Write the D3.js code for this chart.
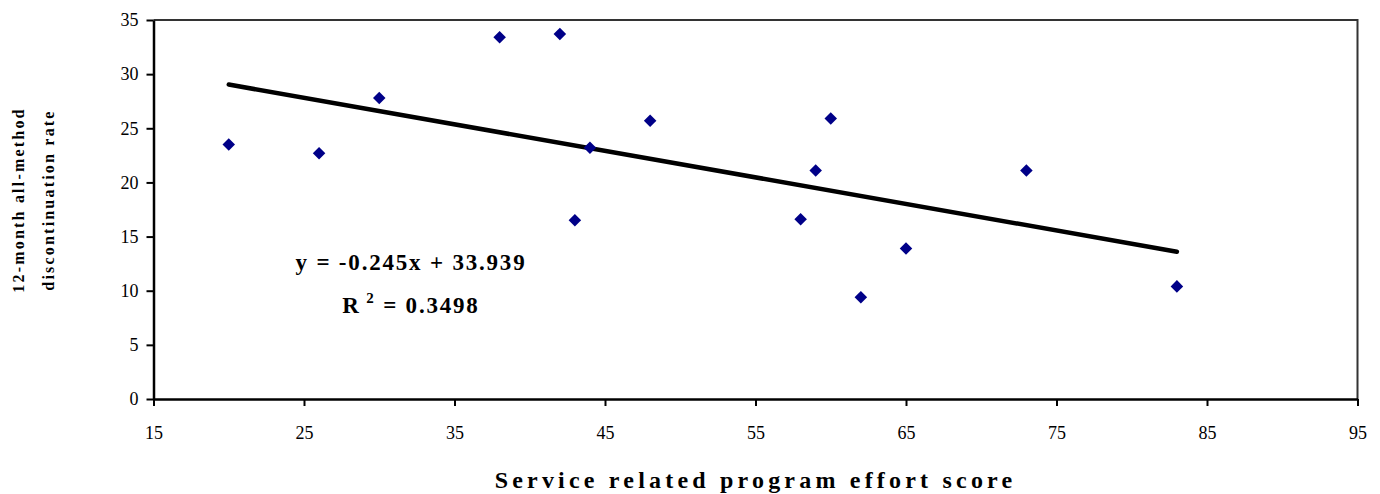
<!DOCTYPE html>
<html>
<head>
<meta charset="utf-8">
<script src="https://cdn.jsdelivr.net/npm/d3@7"></script>
<style>
  html, body { margin: 0; padding: 0; background: #fff; }
  svg { display: block; }
  .tick text { font-family: "Liberation Serif", "Times New Roman", serif; font-size: 18px; fill: #000; }
</style>
</head>
<body>
<svg id="chart" width="1380" height="494"></svg>
<script>
// Program effort score (x) vs. 12-month discontinuation rate (y)
const effortScores = [20, 26, 30, 38, 42, 43, 44, 48, 58, 59, 60, 62, 65, 73, 83];
const discontinuationRates = [23.5, 22.7, 27.8, 33.4, 33.7, 16.5, 23.2, 25.7, 16.6, 21.1, 25.9, 9.4, 13.9, 21.1, 10.4];

// Linear trend line, as reported in the equation label
const trendSlope = -0.245;
const trendIntercept = 33.939;
const rSquared = 0.3498;

const xTicks = [15, 25, 35, 45, 55, 65, 75, 85, 95];
const yTicks = [0, 5, 10, 15, 20, 25, 30, 35];

const xTitle = "Service related program effort score";
const yTitleLines = ["12-month all-method", "discontinuation rate"];

const svg = d3.select("#chart");
const plot = { left: 153.5, top: 20, right: 1357.5, bottom: 399 };

const x = d3.scaleLinear().domain([15, 95]).range([plot.left, plot.right]);
const y = d3.scaleLinear().domain([0, 35]).range([plot.bottom, plot.top]);

// Plot-area frame (top and right edges)
svg.append("path")
  .attr("d", `M${plot.left},${plot.top}H${plot.right}V${plot.bottom}`)
  .attr("fill", "none")
  .attr("stroke", "#333")
  .attr("stroke-width", 2);

// Axes
const xAxis = svg.append("g")
  .attr("transform", `translate(0,${plot.bottom})`)
  .call(d3.axisBottom(x).tickValues(xTicks).tickSize(7).tickSizeOuter(0).tickFormat(d3.format("d")));
xAxis.select(".domain").attr("stroke", "#000").attr("stroke-width", 2.5);
xAxis.selectAll(".tick line").attr("stroke", "#000").attr("stroke-width", 2);
xAxis.selectAll(".tick text").attr("dy", 0).attr("y", 40);

const yAxis = svg.append("g")
  .attr("transform", `translate(${plot.left},0)`)
  .call(d3.axisLeft(y).tickValues(yTicks).tickSize(7).tickSizeOuter(0).tickFormat(d3.format("d")));
yAxis.select(".domain").attr("stroke", "#000").attr("stroke-width", 2.5);
yAxis.selectAll(".tick line").attr("stroke", "#000").attr("stroke-width", 2);
yAxis.selectAll(".tick text").attr("x", -15);

// Trend line across the range of the data
const xExtent = d3.extent(effortScores);
const trendPoints = xExtent.map(v => [v, trendSlope * v + trendIntercept]);
svg.append("path")
  .datum(trendPoints)
  .attr("d", d3.line().x(d => x(d[0])).y(d => y(d[1])))
  .attr("fill", "none")
  .attr("stroke", "#000")
  .attr("stroke-width", 4.5)
  .attr("stroke-linecap", "round");

// Scatter points as diamonds
const diamond = d3.symbol().type(d3.symbolDiamond2).size(100);
svg.append("g")
  .selectAll("path")
  .data(effortScores.map((v, i) => [v, discontinuationRates[i]]))
  .join("path")
  .attr("d", diamond)
  .attr("transform", d => `translate(${x(d[0])},${y(d[1])})`)
  .attr("fill", "#000088");

// Equation and R-squared label
const labelFont = '"Liberation Serif", "Times New Roman", serif';
svg.append("text")
  .attr("x", 411).attr("y", 270)
  .attr("text-anchor", "middle")
  .attr("font-family", labelFont)
  .attr("font-weight", "bold")
  .attr("font-size", 23)
  .attr("letter-spacing", 1.8)
  .text(`y = ${trendSlope}x + ${trendIntercept}`);

const r2 = svg.append("text")
  .attr("x", 411).attr("y", 313)
  .attr("text-anchor", "middle")
  .attr("font-family", labelFont)
  .attr("font-weight", "bold")
  .attr("font-size", 23)
  .attr("letter-spacing", 1.8);
r2.append("tspan").text("R");
r2.append("tspan").attr("dy", -10).attr("font-size", 15).text(" 2");
r2.append("tspan").attr("dy", 10).text(` = ${rSquared}`);

// Axis titles
svg.append("text")
  .attr("x", (plot.left + plot.right) / 2).attr("y", 488)
  .attr("text-anchor", "middle")
  .attr("font-family", labelFont)
  .attr("font-weight", "bold")
  .attr("font-size", 24)
  .attr("letter-spacing", 4.2)
  .text(xTitle);

const yTitle = svg.append("text")
  .attr("transform", "translate(0,200) rotate(-90)")
  .attr("text-anchor", "middle")
  .attr("font-family", labelFont)
  .attr("font-weight", "bold")
  .attr("font-size", 16)
  .attr("letter-spacing", 2.2);
yTitle.selectAll("tspan")
  .data(yTitleLines)
  .join("tspan")
  .attr("x", 0)
  .attr("y", (d, i) => 24 + i * 30)
  .text(d => d);
</script>
</body>
</html>
